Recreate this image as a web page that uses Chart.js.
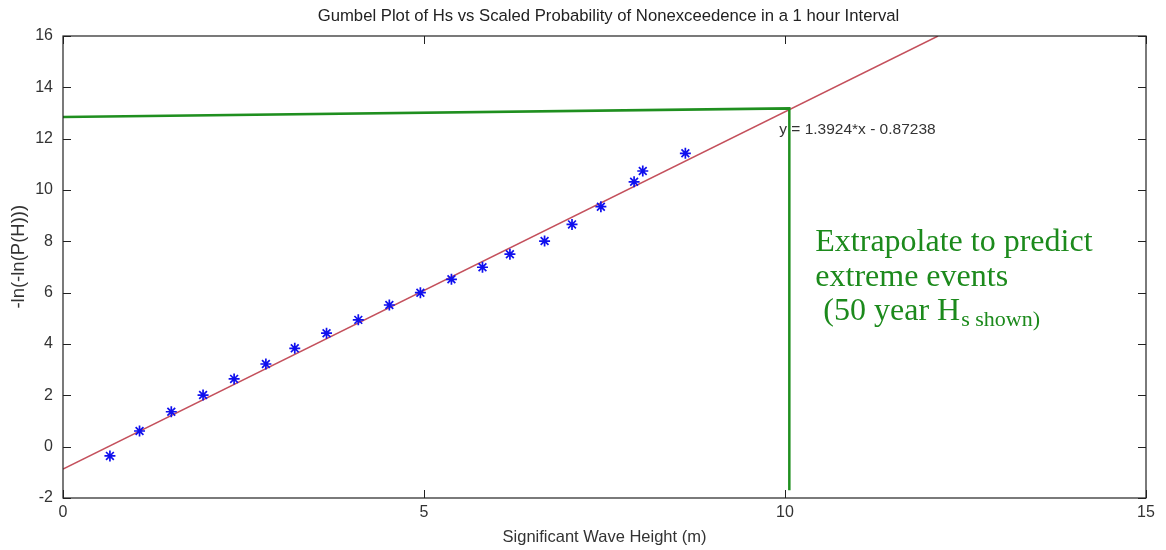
<!DOCTYPE html>
<html>
<head>
<meta charset="utf-8">
<script src="https://cdn.jsdelivr.net/npm/chart.js@4/dist/chart.umd.min.js"></script>
<style>
  html, body { margin: 0; padding: 0; background: #ffffff; }
  #wrap { width: 1166px; height: 550px; position: relative; }
</style>
</head>
<body>
<div id="wrap"><canvas id="c" width="1166" height="550"></canvas></div>
<script>
// ---- data ----
const titleText = 'Gumbel Plot of Hs vs Scaled Probability of Nonexceedence in a 1 hour Interval';
const xTitle = 'Significant Wave Height (m)';
const yTitle = '-ln(-ln(P(H)))';
const xTickValues = [0, 5, 10, 15];
const yTickValues = [-2, 0, 2, 4, 6, 8, 10, 12, 14, 16];
const hsValues = [0.65, 1.06, 1.50, 1.94, 2.37, 2.81, 3.21, 3.65, 4.09, 4.52, 4.95, 5.38, 5.81, 6.19, 6.67, 7.05, 7.45, 7.91, 8.03, 8.62];
const gumbelValues = [-0.36, 0.61, 1.36, 2.01, 2.64, 3.22, 3.83, 4.42, 4.94, 5.52, 6.00, 6.52, 6.99, 7.50, 8.01, 8.66, 9.35, 10.32, 10.74, 11.43];
const fitX = [0, 12.12];
const fitY = [-0.87, 16];
const guideX = [0, 10.06, 10.06];
const guideY = [12.84, 13.18, -1.70];
const fitEquation = 'y = 1.3924*x - 0.87238';
const noteLines = ['Extrapolate to predict', 'extreme events'];
const noteLine3Main = ' (50 year H';
const noteLine3Sub = 's shown)';

const toPts = (xs, ys) => xs.map((v, i) => ({ x: v, y: ys[i] }));
const SANS = '"Liberation Sans", Arial, sans-serif';
const SERIF = '"Liberation Serif", "Times New Roman", serif';

const overlay = {
  id: 'overlay',
  afterDatasetsDraw(chart) {
    const { ctx, chartArea: a, scales: { x, y } } = chart;
    ctx.save();
    // box
    ctx.strokeStyle = '#222';
    ctx.lineWidth = 1.2;
    ctx.strokeRect(a.left, a.top, a.right - a.left, a.bottom - a.top);
    // inward ticks on all sides
    const tl = 8;
    ctx.beginPath();
    xTickValues.forEach(v => {
      const px = Math.round(x.getPixelForValue(v)) + 0.5;
      ctx.moveTo(px, a.bottom); ctx.lineTo(px, a.bottom - tl);
      ctx.moveTo(px, a.top); ctx.lineTo(px, a.top + tl);
    });
    yTickValues.forEach(v => {
      const py = Math.round(y.getPixelForValue(v)) + 0.5;
      ctx.moveTo(a.left, py); ctx.lineTo(a.left + tl, py);
      ctx.moveTo(a.right, py); ctx.lineTo(a.right - tl, py);
    });
    ctx.lineWidth = 1;
    ctx.stroke();

    // title
    ctx.fillStyle = '#222';
    ctx.font = '16.7px ' + SANS;
    ctx.textAlign = 'center';
    ctx.textBaseline = 'middle';
    ctx.fillText(titleText, (a.left + a.right) / 2 + 4, 16);

    // y axis title
    ctx.save();
    ctx.translate(19, y.getPixelForValue(7.4));
    ctx.rotate(-Math.PI / 2);
    ctx.font = '18.5px ' + SANS;
    ctx.fillStyle = '#333';
    ctx.fillText(yTitle, 0, 0);
    ctx.restore();

    // fit equation
    ctx.textAlign = 'left';
    ctx.fillStyle = '#333';
    ctx.font = '15.5px ' + SANS;
    ctx.fillText(fitEquation, x.getPixelForValue(9.92), y.getPixelForValue(12.35));

    // annotation
    ctx.fillStyle = '#1c8a1c';
    ctx.textBaseline = 'alphabetic';
    ctx.font = '32px ' + SERIF;
    const ax = x.getPixelForValue(10.42);
    ctx.fillText(noteLines[0], ax, 251);
    ctx.fillText(noteLines[1], ax, 286);
    ctx.fillText(noteLine3Main, ax, 320);
    const w = ctx.measureText(noteLine3Main).width;
    ctx.font = '22px ' + SERIF;
    ctx.fillText(noteLine3Sub, ax + w + 1, 326);
    ctx.restore();
  }
};

new Chart(document.getElementById('c'), {
  type: 'scatter',
  data: {
    datasets: [
      {
        label: 'data',
        data: toPts(hsValues, gumbelValues),
        pointStyle: 'star',
        pointRadius: 5.5,
        pointBorderColor: '#1010ee',
        pointBackgroundColor: '#1010ee',
        pointBorderWidth: 1.7,
        showLine: false,
        order: 0
      },
      {
        label: 'guide',
        data: toPts(guideX, guideY),
        showLine: true,
        borderColor: '#1f8f1f',
        borderWidth: 2.5,
        pointRadius: 0,
        order: 1
      },
      {
        label: 'fit',
        data: toPts(fitX, fitY),
        showLine: true,
        borderColor: '#c4505c',
        borderWidth: 1.5,
        pointRadius: 0,
        order: 2
      }
    ]
  },
  options: {
    responsive: false,
    animation: false,
    layout: { padding: { top: 36, right: 20, left: 0, bottom: 0 } },
    plugins: { legend: { display: false }, tooltip: { enabled: false }, title: { display: false } },
    scales: {
      x: {
        type: 'linear', min: 0, max: 15,
        afterBuildTicks: s => { s.ticks = xTickValues.map(v => ({ value: v })); },
        afterFit: s => { s.height = 52; },
        grid: { display: false, drawTicks: false },
        border: { display: false },
        ticks: { padding: 5, color: '#333', font: { family: SANS, size: 16 } },
        title: { display: true, text: xTitle, color: '#333', padding: { top: 0, bottom: 3 },
                 font: { family: SANS, size: 16.5 } }
      },
      y: {
        type: 'linear', min: -2, max: 16,
        afterBuildTicks: s => { s.ticks = yTickValues.map(v => ({ value: v })); },
        afterFit: s => { s.width = 63; },
        grid: { display: false, drawTicks: false },
        border: { display: false },
        ticks: { padding: 10, color: '#333', font: { family: SANS, size: 16 } },
        title: { display: false }
      }
    }
  },
  plugins: [overlay]
});
</script>
</body>
</html>
